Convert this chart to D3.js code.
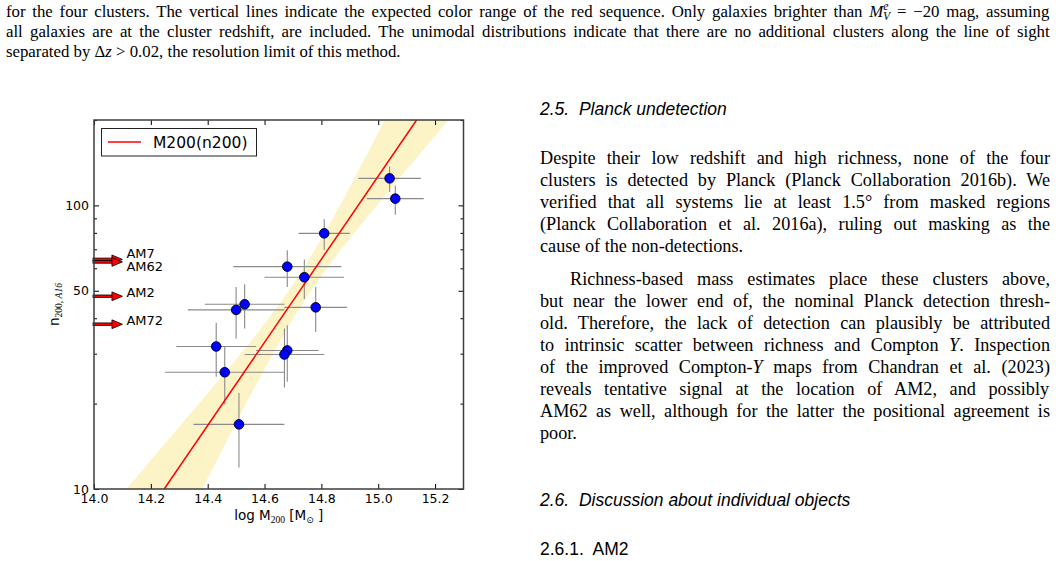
<!DOCTYPE html>
<html><head><meta charset="utf-8">
<script src="https://cdn.jsdelivr.net/npm/d3@7"></script>
<style>body{margin:0;background:#fff} svg{display:block}</style>
</head><body>
<svg id="page" width="1056" height="561"></svg>
<script>
// ---------------- data ----------------
const clusterM   = [15.04, 15.06, 14.81, 14.68, 14.74, 14.78, 14.53, 14.50, 14.43, 14.68, 14.67, 14.46, 14.51];
const clusterN   = [124.5, 105.6, 79.7, 60.8, 55.8, 43.7, 44.8, 42.8, 31.8, 30.8, 29.8, 25.8, 16.9];
const clusterMlo = [14.93, 14.96, 14.72, 14.49, 14.60, 14.67, 14.39, 14.33, 14.29, 14.57, 14.53, 14.25, 14.35];
const clusterMhi = [15.15, 15.16, 14.90, 14.87, 14.88, 14.89, 14.67, 14.67, 14.57, 14.79, 14.81, 14.67, 14.67];
const clusterNlo = [111.4, 92.7, 69.6, 51.6, 46.8, 35.8, 36.8, 33.9, 24.9, 23.9, 22.8, 19.9, 11.9];
const clusterNhi = [137.0, 117.6, 89.3, 69.4, 64.5, 51.6, 52.7, 51.6, 38.6, 37.8, 36.8, 31.7, 21.8];

// fitted relation M200(n200): values read where it crosses the frame
const fitN = [10, 200];
const fitM = [14.247, 15.135];

// confidence band around the relation
const bandN   = [10, 15, 20, 30, 40, 50, 70, 100, 150, 200];
const bandMlo = [14.114, 14.263, 14.369, 14.516, 14.615, 14.685, 14.778, 14.865, 14.958, 15.023];
const bandMhi = [14.381, 14.471, 14.535, 14.630, 14.701, 14.763, 14.870, 14.995, 15.142, 15.247];

// richness of the four new clusters (arrows)
const arrowNames = ["AM7", "AM62", "AM2", "AM72"];
const arrowN     = [64.5, 63.2, 47.8, 38.1];
const arrowFromM = 14.0, arrowToM = 14.1;

// axes
const xDomain = [14.0, 15.3];
const yDomain = [10, 200];
const xTicks = [14.0, 14.2, 14.4, 14.6, 14.8, 15.0, 15.2];
const yMajorTicks = [10, 50, 100];
const yMinorTicks = [20, 30, 40, 60, 70, 80, 90, 200];
const legendLabel = "M200(n200)";

// ---------------- page text ----------------
const captionLines = [
  [["for the four clusters. The vertical lines indicate the expected color range of the red sequence. Only galaxies brighter than "], ["M", "i"], ["e", "sup"], ["V", "sub"], [" = −20 mag, assuming", "back"]],
  [["all galaxies are at the cluster redshift, are included. The unimodal distributions indicate that there are no additional clusters along the line of sight"]],
  [["separated by Δ"], ["z", "i"], [" > 0.02, the resolution limit of this method."]]
];
const para1 = [
  "Despite their low redshift and high richness, none of the four",
  "clusters is detected by Planck (Planck Collaboration 2016b). We",
  "verified that all systems lie at least 1.5° from masked regions",
  "(Planck Collaboration et al. 2016a), ruling out masking as the",
  "cause of the non-detections."
];
const para2 = [
  [["Richness-based mass estimates place these clusters above,"]],
  [["but near the lower end of, the nominal Planck detection thresh-"]],
  [["old. Therefore, the lack of detection can plausibly be attributed"]],
  [["to intrinsic scatter between richness and Compton "], ["Y", "i"], [". Inspection"]],
  [["of the improved Compton-"], ["Y", "i"], [" maps from Chandran et al. (2023)"]],
  [["reveals tentative signal at the location of AM2, and possibly"]],
  [["AM62 as well, although for the latter the positional agreement is"]],
  [["poor."]]
];

const svg = d3.select("#page");
const SERIF = "'Liberation Serif', 'Times New Roman', serif";
const SANS = "'Liberation Sans', Arial, sans-serif";
const DV = "'DejaVu Sans', sans-serif";

function textLine(parent, x, y, parts, size, width, justify, family) {
  const t = parent.append("text").attr("x", x).attr("y", y)
    .attr("font-family", family || SERIF).attr("font-size", size).attr("fill", "#000");
  parts.forEach(p => {
    const ts = t.append("tspan").text(p[0]);
    const st = p[1];
    if (st === "i") ts.attr("font-style", "italic");
    if (st === "sup") ts.attr("font-style", "italic").attr("font-size", size * 0.7).attr("dy", -size * 0.38);
    if (st === "sub") ts.attr("font-style", "italic").attr("font-size", size * 0.7).attr("dx", -size * 0.32).attr("dy", size * 0.6);
    if (st === "back") ts.attr("dy", -size * 0.22);
  });
  if (justify) {
    const nSpaces = parts.map(p => (p[0].match(/ /g) || []).length).reduce((a, b) => a + b, 0);
    if (nSpaces > 0) {
      for (let k = 0; k < 3; k++) {
        const bb = t.node().getBBox();
        const cur = +t.attr("word-spacing") || 0;
        const right = bb.x + bb.width;
        t.attr("word-spacing", cur + (x + width - right) / nSpaces);
      }
    }
  }
  return t;
}

// caption
const capX = 6, capW = 1044;
captionLines.forEach((parts, i) => textLine(svg, capX, 16.5 + i * 20.3, parts, 16.8, capW, i < 2));

// right column
const colX = 540, colW = 510, lh = 22;
svg.append("text").attr("x", colX).attr("y", 115).attr("font-family", SANS).attr("font-style", "italic")
  .attr("font-size", 17.5).attr("xml:space", "preserve").text("2.5.  Planck undetection");
para1.forEach((s, i) => textLine(svg, colX, 164 + i * lh, [[s]], 18.2, colW, i < para1.length - 1));
para2.forEach((parts, i) => {
  const x0 = i === 0 ? colX + 30 : colX;
  textLine(svg, x0, 285 + i * lh, parts, 18.2, colW - (x0 - colX), i < para2.length - 1);
});
svg.append("text").attr("x", colX).attr("y", 506).attr("font-family", SANS).attr("font-style", "italic")
  .attr("font-size", 17.5).attr("xml:space", "preserve").text("2.6.  Discussion about individual objects");
svg.append("text").attr("x", colX).attr("y", 555).attr("font-family", SANS)
  .attr("font-size", 17.5).attr("xml:space", "preserve").text("2.6.1.  AM2");

// ---------------- chart ----------------
const L = 94, R = 463.5, T = 120, B = 489;
const x = d3.scaleLinear().domain(xDomain).range([L, R]);
const y = d3.scaleLog().domain(yDomain).range([B, T]);
const g = svg.append("g");

const clip = svg.append("defs").append("clipPath").attr("id", "plotclip");
clip.append("rect").attr("x", L).attr("y", T).attr("width", R - L).attr("height", B - T);
const plot = g.append("g").attr("clip-path", "url(#plotclip)");

// band
const bandData = bandN.map((n, i) => ({n, lo: bandMlo[i], hi: bandMhi[i]}));
plot.append("path").datum(bandData)
  .attr("d", d3.area().x0(d => x(d.lo)).x1(d => x(d.hi)).y(d => y(d.n)).curve(d3.curveMonotoneY))
  .attr("fill", "#fcf4c6").attr("stroke", "none");

// error bars
const pts = clusterM.map((m, i) => ({m, n: clusterN[i], mlo: clusterMlo[i], mhi: clusterMhi[i], nlo: clusterNlo[i], nhi: clusterNhi[i]}));
const eb = plot.append("g").attr("stroke", "#8a8a8a").attr("stroke-width", 1.1);
eb.selectAll("line.h").data(pts).join("line").attr("class", "h")
  .attr("x1", d => x(d.mlo)).attr("x2", d => x(d.mhi)).attr("y1", d => y(d.n)).attr("y2", d => y(d.n));
eb.selectAll("line.v").data(pts).join("line").attr("class", "v")
  .attr("x1", d => x(d.m)).attr("x2", d => x(d.m)).attr("y1", d => y(d.nlo)).attr("y2", d => y(d.nhi));

// fit line
plot.append("path").datum(fitN.map((n, i) => ({n, m: fitM[i]})))
  .attr("d", d3.line().x(d => x(d.m)).y(d => y(d.n)))
  .attr("stroke", "#ff0000").attr("stroke-width", 1.5).attr("fill", "none");

// markers
plot.selectAll("circle").data(pts).join("circle")
  .attr("cx", d => x(d.m)).attr("cy", d => y(d.n)).attr("r", 4.8)
  .attr("fill", "#0000ff").attr("stroke", "#000").attr("stroke-width", 0.9);

// arrows
const arrows = arrowNames.map((name, i) => ({name, n: arrowN[i]}));
const labelShift = {AM7: -6, AM62: 5};
const ag = g.append("g");
arrows.forEach(a => {
  const yy = y(a.n), x0 = x(arrowFromM), x1 = x(arrowToM), hl = 10.5, hw = 4.4;
  ag.append("rect").attr("x", x0 - 1).attr("y", yy - 1.3).attr("width", x1 - hl - x0 + 1).attr("height", 2.6)
    .attr("fill", "#ff0000").attr("stroke", "#000").attr("stroke-width", 0.8);
  ag.append("path").attr("d", `M${x1 - hl},${yy - hw}L${x1},${yy}L${x1 - hl},${yy + hw}Z`)
    .attr("fill", "#ff0000").attr("stroke", "#000").attr("stroke-width", 0.8);
  ag.append("text").attr("x", x1 + 4).attr("y", yy + (labelShift[a.name] !== undefined ? labelShift[a.name] : -4))
    .attr("dy", "0.35em").attr("font-family", DV).attr("font-size", 13).text(a.name);
});

// axes (inward ticks)
function styleAxis(sel) {
  sel.select(".domain").remove();
  sel.selectAll(".tick line").attr("stroke", "#000").attr("stroke-width", 1);
  sel.selectAll(".tick text").attr("font-family", DV).attr("font-size", 12.5).attr("fill", "#000");
}
g.append("g").attr("transform", `translate(0,${B})`)
  .call(d3.axisBottom(x).tickValues(xTicks).tickFormat(d3.format(".1f")).tickSize(-5).tickPadding(5)).call(styleAxis);
g.append("g").attr("transform", `translate(0,${T})`)
  .call(d3.axisTop(x).tickValues(xTicks).tickFormat("").tickSize(-5)).call(styleAxis);
g.append("g").attr("transform", `translate(${L},0)`)
  .call(d3.axisLeft(y).tickValues(yMajorTicks).tickFormat(d3.format("d")).tickSize(-5).tickPadding(5)).call(styleAxis);
g.append("g").attr("transform", `translate(${L},0)`)
  .call(d3.axisLeft(y).tickValues(yMinorTicks).tickFormat("").tickSize(-3)).call(styleAxis);
g.append("g").attr("transform", `translate(${R},0)`)
  .call(d3.axisRight(y).tickValues(yMajorTicks).tickFormat("").tickSize(-5)).call(styleAxis);
g.append("g").attr("transform", `translate(${R},0)`)
  .call(d3.axisRight(y).tickValues(yMinorTicks).tickFormat("").tickSize(-3)).call(styleAxis);

// frame
g.append("rect").attr("x", L).attr("y", T).attr("width", R - L).attr("height", B - T)
  .attr("fill", "none").attr("stroke", "#3c3c3c").attr("stroke-width", 1.5);

// legend
const lg = g.append("g");
lg.append("rect").attr("x", 101.5).attr("y", 128.5).attr("width", 155).attr("height", 27.5)
  .attr("fill", "#fff").attr("stroke", "#222").attr("stroke-width", 1);
lg.append("line").attr("x1", 108).attr("x2", 141).attr("y1", 142).attr("y2", 142)
  .attr("stroke", "#ff0000").attr("stroke-width", 1.5);
lg.append("text").attr("x", 153).attr("y", 142).attr("dy", "0.36em")
  .attr("font-family", DV).attr("font-size", 15.5).text(legendLabel);

// axis labels
const xl = g.append("text").attr("x", (L + R) / 2).attr("y", 520).attr("text-anchor", "middle")
  .attr("font-family", DV).attr("font-size", 13.5);
xl.append("tspan").text("log M");
xl.append("tspan").attr("font-family", SERIF).attr("font-size", 9.5).attr("dy", 3).text("200");
xl.append("tspan").attr("dy", -3).text(" [M");
xl.append("tspan").attr("font-size", 9).attr("dy", 3).text("⊙");
xl.append("tspan").attr("dy", -3).text(" ]");

const yl = g.append("text").attr("transform", `translate(58.5,${(T + B) / 2}) rotate(-90)`)
  .attr("text-anchor", "middle").attr("font-family", DV).attr("font-size", 13.5);
yl.append("tspan").text("n");
yl.append("tspan").attr("font-family", SERIF).attr("font-size", 9.5).attr("dy", 3).text("200, ");
yl.append("tspan").attr("font-family", SERIF).attr("font-style", "italic").attr("font-size", 9.5).text("A16");
</script>
</body></html>
